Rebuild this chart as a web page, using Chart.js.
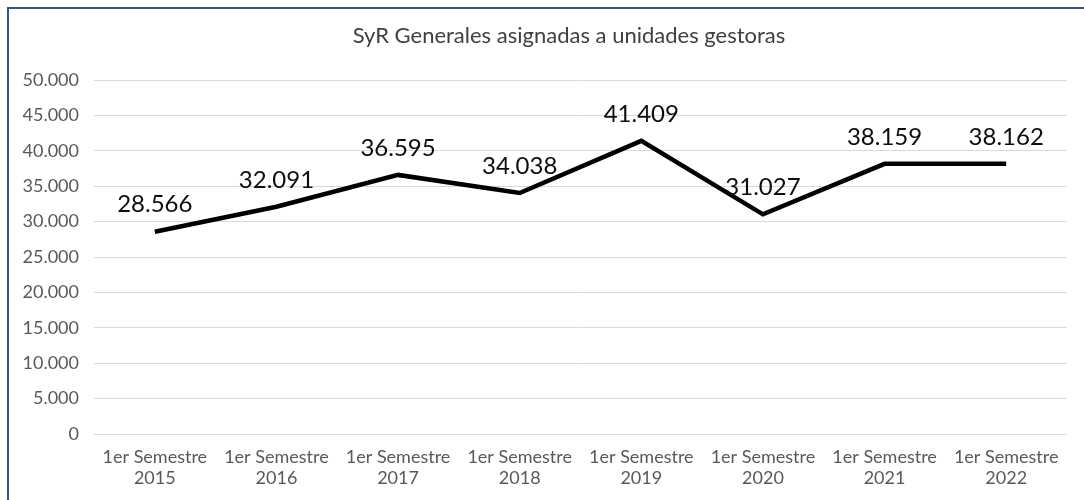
<!DOCTYPE html>
<html>
<head>
<meta charset="utf-8">
<script src="https://cdn.jsdelivr.net/npm/chart.js@4"></script>
<style>
  html, body { margin: 0; padding: 0; background: #fff; }
  #frame { position: absolute; left: 7px; top: 7px; width: 1200px; height: 600px;
           border-left: 2px solid #2F5597; border-top: 2px solid #2F5597; }
  #wrap { position: absolute; left: 0; top: 0; width: 1084px; height: 500px; }
</style>
</head>
<body>
<div id="frame"></div>
<div id="wrap"><canvas id="c" width="1084" height="500"></canvas></div>
<script>
const chartTitle = "SyR Generales asignadas a unidades gestoras";
const categories = [
  ["1er Semestre", "2015"],
  ["1er Semestre", "2016"],
  ["1er Semestre", "2017"],
  ["1er Semestre", "2018"],
  ["1er Semestre", "2019"],
  ["1er Semestre", "2020"],
  ["1er Semestre", "2021"],
  ["1er Semestre", "2022"]
];
const values = [28566, 32091, 36595, 34038, 41409, 31027, 38159, 38162];
const yMin = 0, yMax = 50000, yStep = 5000;

function fmt(v) {
  return String(Math.round(v)).replace(/\B(?=(\d{3})+(?!\d))/g, ".");
}

const titlePlugin = {
  id: "titlePlugin",
  afterDraw(chart) {
    const ctx = chart.ctx;
    ctx.save();
    ctx.font = "22px Lato";
    ctx.fillStyle = "#404040";
    ctx.textAlign = "center";
    ctx.textBaseline = "middle";
    ctx.fillText(chartTitle, 569, 36);
    ctx.restore();
  }
};

const labelPlugin = {
  id: "labelPlugin",
  afterDatasetsDraw(chart) {
    const ctx = chart.ctx;
    const meta = chart.getDatasetMeta(0);
    ctx.save();
    ctx.font = "24px Lato";
    ctx.fillStyle = "#0d0d0d";
    ctx.textAlign = "center";
    ctx.textBaseline = "middle";
    meta.data.forEach((pt, i) => {
      ctx.fillText(fmt(values[i]), pt.x, pt.y - 27);
    });
    ctx.restore();
  }
};

new Chart(document.getElementById("c"), {
  type: "line",
  data: {
    labels: categories,
    datasets: [{
      data: values,
      borderColor: "#000",
      borderWidth: 4.5,
      pointRadius: 0,
      tension: 0,
      fill: false,
      borderJoinStyle: "miter"
    }]
  },
  options: {
    responsive: false,
    animation: false,
    devicePixelRatio: 1,
    layout: { padding: { top: 80, right: 17, bottom: 0, left: 0 } },
    plugins: { legend: { display: false }, tooltip: { enabled: false }, title: { display: false } },
    scales: {
      x: {
        offset: true,
        grid: { display: false, drawTicks: false },
        border: { display: false },
        ticks: { color: "#595959", font: { family: "Lato", size: 18, lineHeight: 1.17 }, padding: 13, maxRotation: 0, autoSkip: false },
        afterFit(s) { s.height = 66; }
      },
      y: {
        min: yMin, max: yMax,
        grid: { color: "#d9d9d9", lineWidth: 1, drawTicks: false },
        border: { display: false },
        ticks: { stepSize: yStep, color: "#595959", font: { family: "Lato", size: 18 }, padding: 15,
                 callback: (v) => fmt(v) },
        afterFit(s) { s.width = 94; }
      }
    }
  },
  plugins: [titlePlugin, labelPlugin]
});
</script>
</body>
</html>
